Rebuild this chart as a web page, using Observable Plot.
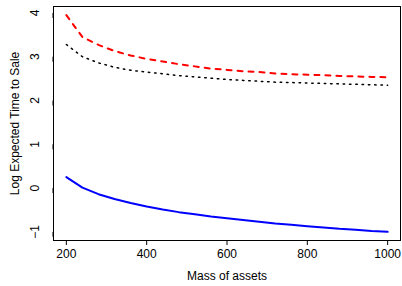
<!DOCTYPE html>
<html>
<head>
<meta charset="utf-8">
<script src="https://cdn.jsdelivr.net/npm/d3@7"></script>
<script src="https://cdn.jsdelivr.net/npm/@observablehq/plot@0.6"></script>
<style>
  html, body { margin: 0; padding: 0; background: #fff; }
  #chart svg { display: block; }
</style>
</head>
<body>
<div id="chart"></div>
<script>
const mass = [200, 240, 280, 320, 360, 400, 440, 480, 520, 560, 600, 640, 680, 720, 760, 800, 840, 880, 920, 960, 1000];
const redDashed = [3.95, 3.45, 3.27, 3.13, 3.03, 2.95, 2.89, 2.83, 2.78, 2.73, 2.70, 2.67, 2.65, 2.62, 2.60, 2.59, 2.58, 2.56, 2.55, 2.54, 2.53];
const blackDotted = [3.28, 3.00, 2.86, 2.76, 2.69, 2.65, 2.61, 2.57, 2.54, 2.51, 2.48, 2.46, 2.44, 2.42, 2.41, 2.40, 2.39, 2.38, 2.37, 2.36, 2.35];
const blueSolid = [0.25, 0.01, -0.14, -0.25, -0.34, -0.42, -0.49, -0.55, -0.60, -0.65, -0.69, -0.73, -0.77, -0.81, -0.84, -0.87, -0.90, -0.93, -0.95, -0.98, -1.00];
const xTicks = [200, 400, 600, 800, 1000];
const yTicks = [-1, 0, 1, 2, 3, 4];
const xLabel = "Mass of assets";
const yLabel = "Log Expected Time to Sale";

const toRows = (vals) => mass.map((m, i) => ({ x: m, y: vals[i] }));

const chart = Plot.plot({
  width: 402,
  height: 286,
  marginLeft: 53,
  marginRight: 2,
  marginTop: 6,
  marginBottom: 46,
  style: { fontFamily: "'Liberation Sans', Arial, Helvetica, sans-serif", fontSize: "12px", color: "#000", background: "#fff" },
  x: { domain: [168, 1032] },
  y: { domain: [-1.198, 4.148] },
  marks: [
    Plot.line(toRows(redDashed), { x: "x", y: "y", stroke: "#FF0000", strokeWidth: 2, strokeDasharray: "5,6" }),
    Plot.line(toRows(blackDotted), { x: "x", y: "y", stroke: "#000", strokeWidth: 1.5, strokeDasharray: "1.5,4.8" }),
    Plot.line(toRows(blueSolid), { x: "x", y: "y", stroke: "#0000FF", strokeWidth: 2 }),
    Plot.frame({ stroke: "#000", strokeWidth: 1 }),
    Plot.axisX({ ticks: xTicks, tickSize: 5, tickPadding: 4, tickFormat: d => String(d), label: null, fontSize: 12 }),
    Plot.axisY({ ticks: yTicks, tickSize: 5, tickPadding: 13, rotate: -90, textAnchor: "middle", tickFormat: d => d < 0 ? "\u2212" + Math.abs(d) : String(d), label: null, fontSize: 12 }),
    Plot.text([xLabel], { text: d => d, frameAnchor: "bottom", dy: 36, fontSize: 12, lineAnchor: "middle", textAnchor: "middle" }),
    Plot.text([yLabel], { text: d => d, frameAnchor: "left", dx: -38, rotate: -90, fontSize: 12, lineAnchor: "middle", textAnchor: "middle" })
  ]
});
document.getElementById("chart").appendChild(chart);
</script>
</body>
</html>
